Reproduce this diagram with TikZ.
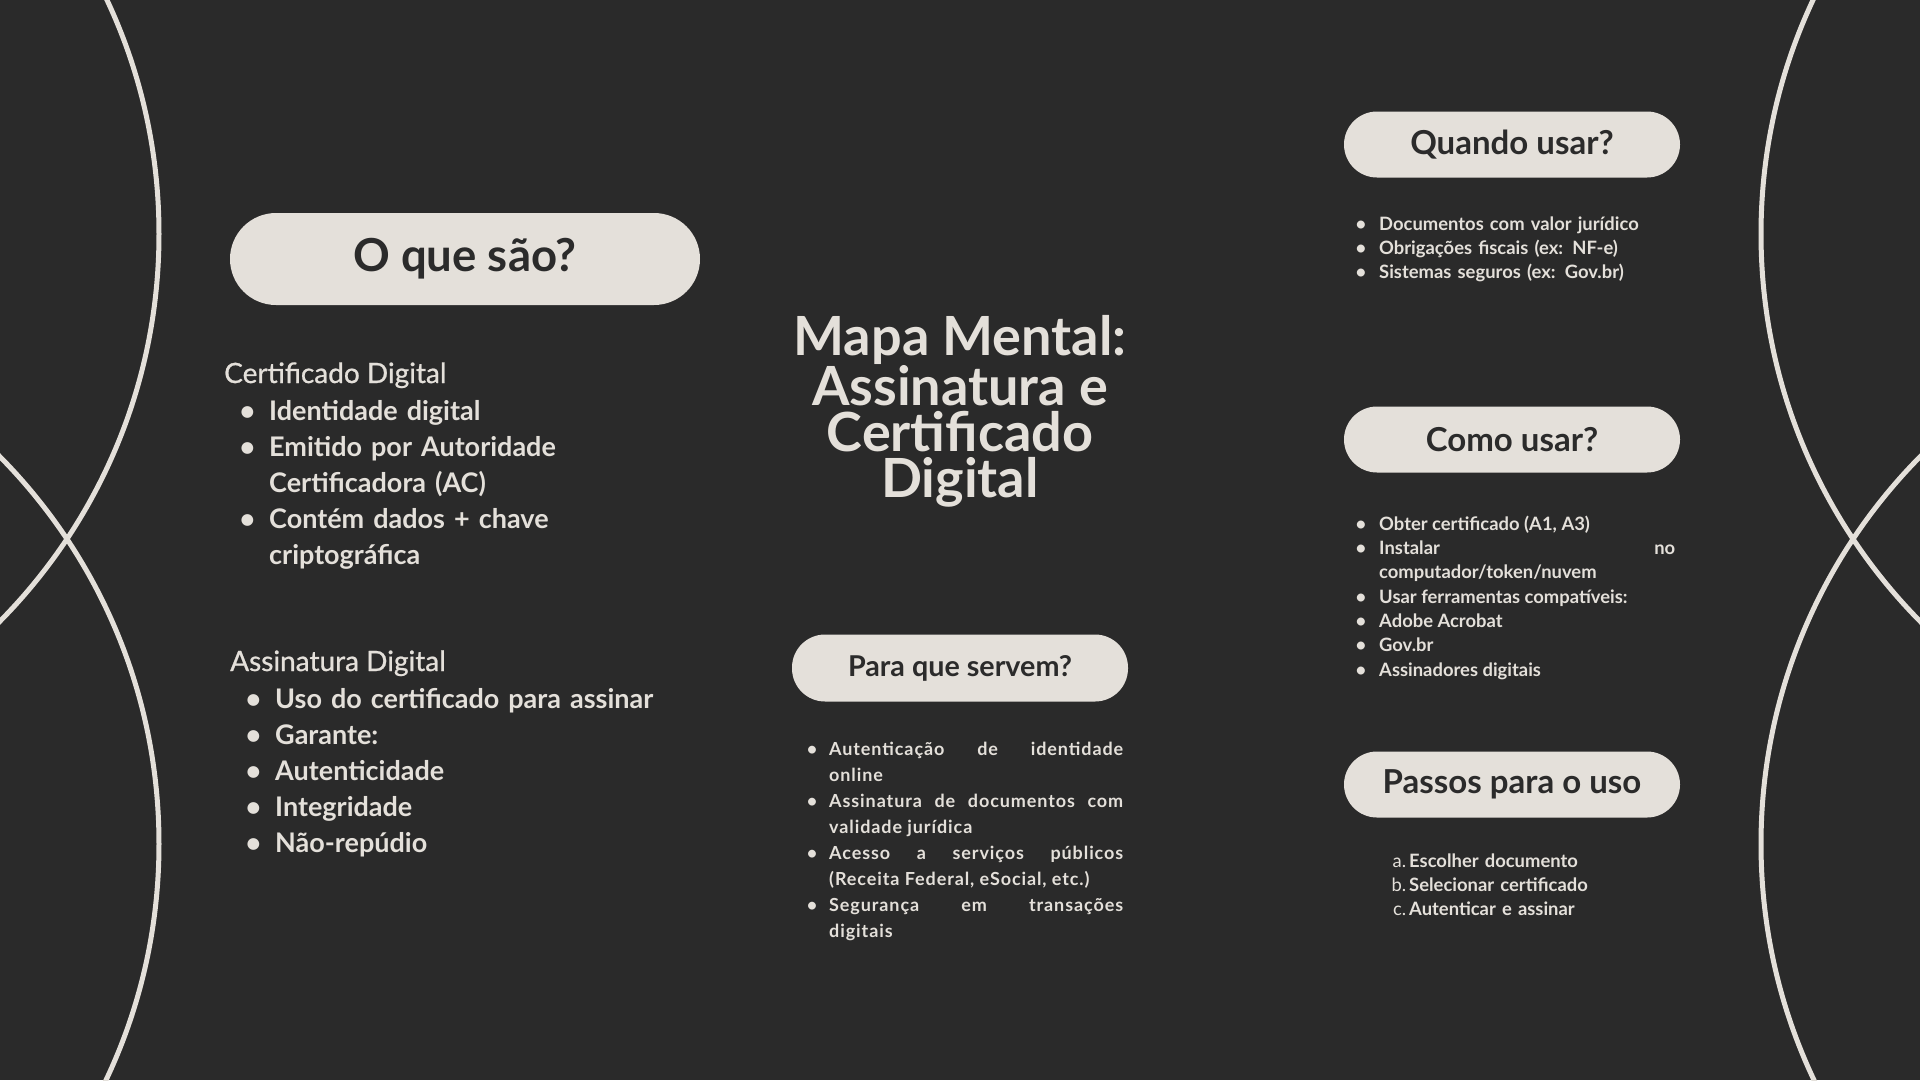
\documentclass[tikz,border=0pt]{standalone}
\usepackage{fontspec}
\setmainfont{Lato}
\usepackage{enumitem}
\setlist{itemsep=0pt, parsep=0pt, topsep=0pt, partopsep=0pt}
\setlist[itemize]{label=\textbullet}

\definecolor{bgdark}{HTML}{2A2A2A}
\definecolor{paper}{HTML}{E4E0DA}
\definecolor{ink}{HTML}{2B2B2B}

\begin{document}
\begin{tikzpicture}[x=1pt, y=-1pt,
                    pill/.style={fill=paper, text=ink, inner sep=0pt, rounded corners=33pt,
                                 minimum width=336pt, minimum height=66pt,
                                 font=\bfseries\fontsize{33}{33}\selectfont},
                    heading/.style={text=paper, inner sep=0pt, anchor=base west,
                                    font=\fontsize{28}{28}\selectfont\addfontfeature{FakeBold=0.8}},
                    biglist/.style={text=paper, inner sep=0pt, anchor=base west, align=left,
                                    text width=#1, font=\bfseries\fontsize{27}{36}\selectfont},
                    smalllist/.style={text=paper, inner sep=0pt, anchor=base west,
                                      text width=#1, font=\bfseries\fontsize{18.4}{24.3}\selectfont},
                    ring/.style={draw=paper, line width=5pt}]

% Background
\useasboundingbox (0,0) rectangle (1920,1080);
\fill[bgdark] (0,0) rectangle (1920,1080);
\clip (0,0) rectangle (1920,1080);

% Rings
\draw[ring] (-392,234) circle[radius=551];
\draw[ring] (-392,844) circle[radius=551];
\draw[ring] (2312,234) circle[radius=551];
\draw[ring] (2312,844) circle[radius=551];

% Title
\node[text=paper, align=center, inner sep=0pt, font=\bfseries\fontsize{54}{46}\selectfont] (title) at (960,411) {Mapa Mental:\\Assinatura e\\Certificado\\Digital};

% Pills
\node[pill, minimum width=470pt, minimum height=92pt, rounded corners=46pt,
      font=\bfseries\fontsize{45.5}{45.5}\selectfont] (whatare) at (465,259) {O que são?};
\node[pill, minimum height=67pt, font=\bfseries\fontsize{28.7}{28.7}\selectfont] (purpose) at (960,668) {Para que servem?};
\node[pill] (whenuse) at (1512,144.5) {Quando usar?};
\node[pill] (howuse) at (1512,439.5) {Como usar?};
\node[pill] (steps) at (1512,784.5) {Passos para o uso};

% Left column
\node[heading] (certhead) at (224,383) {Certificado Digital};
\node[biglist=420pt] (certlist) at (239,384) {\begin{itemize}[leftmargin=30pt, labelsep=14pt]
  \item Identidade digital
  \item Emitido por Autoridade\newline Certificadora (AC)
  \item Contém dados + chave\newline criptográfica
\end{itemize}};

\node[heading] (signhead) at (230,671) {Assinatura Digital};
\node[biglist=420pt] (signlist) at (245,672) {\begin{itemize}[leftmargin=30pt, labelsep=14pt]
  \item Uso do certificado para assinar
  \item Garante:
  \item Autenticidade
  \item Integridade
  \item Não-repúdio
\end{itemize}};

% Middle column
\node[smalllist=324pt, align=justify,
      font=\bfseries\fontsize{18}{26}\selectfont\addfontfeature{LetterSpace=5}] (purposelist) at (799,729) {\begin{itemize}[leftmargin=30pt, labelsep=12pt]
  \item Autenticação de identidade\linebreak online
  \item Assinatura de documentos com\linebreak validade jurídica
  \item Acesso a serviços públicos\linebreak (Receita Federal, eSocial, etc.)
  \item Segurança em transações\linebreak digitais
\end{itemize}};

% Right column
\node[smalllist=320pt, align=left] (whenlist) at (1349,206) {\begin{itemize}[leftmargin=30pt, labelsep=13pt]
  \item Documentos com valor jurídico
  \item Obrigações fiscais (ex: NF-e)
  \item Sistemas seguros (ex: Gov.br)
\end{itemize}};

\node[smalllist=326pt, align=justify] (howlist) at (1349,506) {\begin{itemize}[leftmargin=30pt, labelsep=13pt]
  \item Obter certificado (A1, A3)
  \item Instalar no\linebreak computador/token/nuvem
  \item Usar ferramentas compatíveis:
  \item Adobe Acrobat
  \item Gov.br
  \item Assinadores digitais
\end{itemize}};

\node[smalllist=320pt, align=left] (steplist) at (1379,843) {\begin{enumerate}[label={\mdseries\alph*.}, leftmargin=30pt, labelsep=3pt]
  \item Escolher documento
  \item Selecionar certificado
  \item Autenticar e assinar
\end{enumerate}};

\end{tikzpicture}
\end{document}
